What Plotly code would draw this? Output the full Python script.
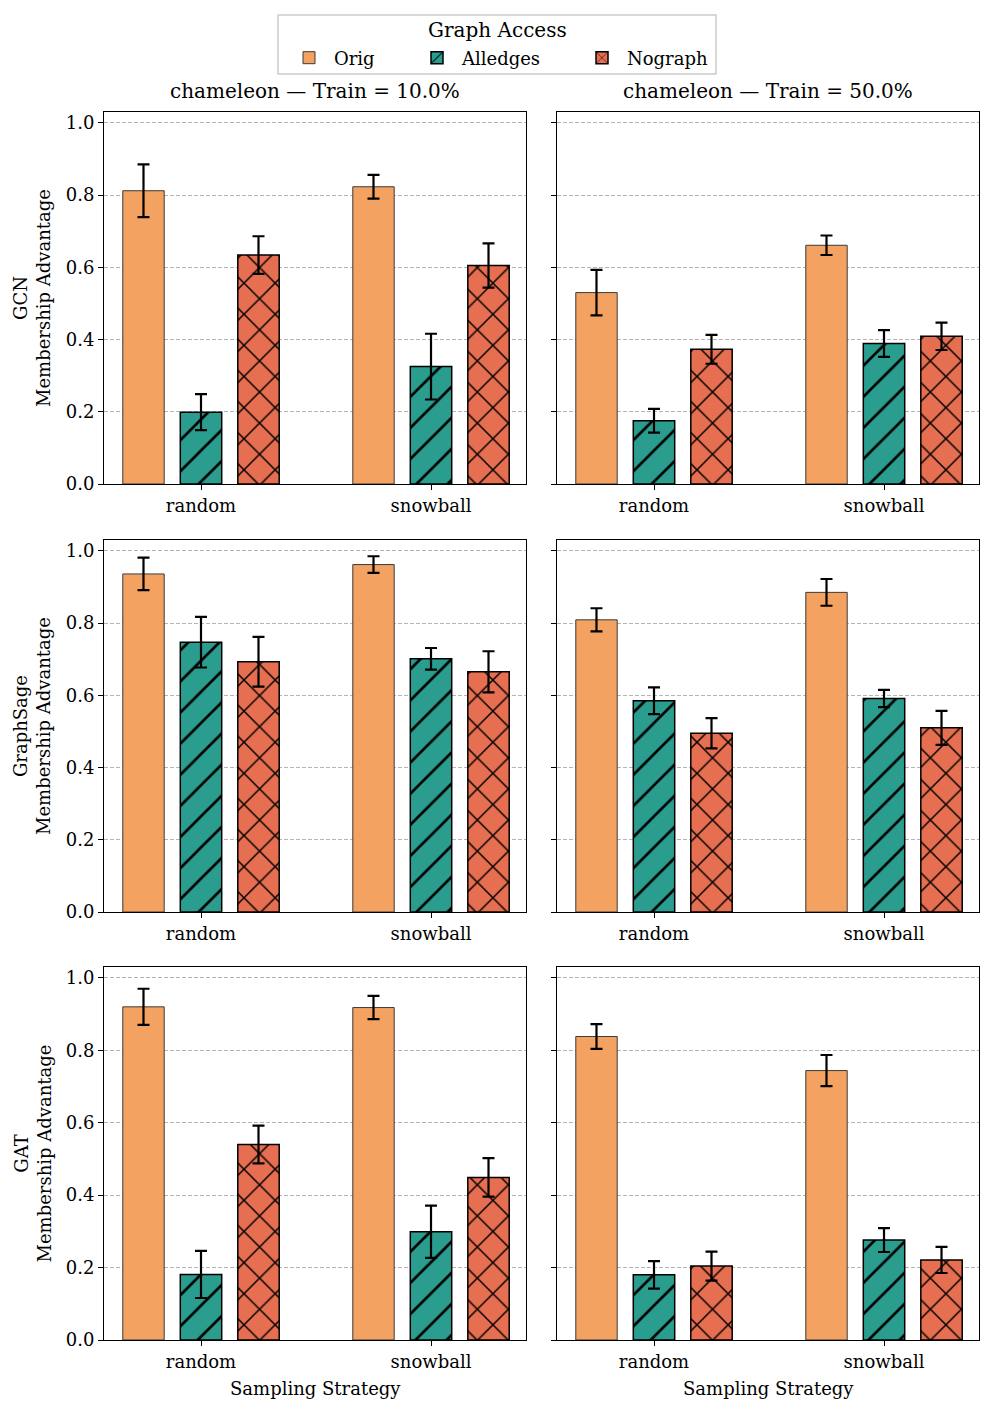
import plotly.graph_objects as go
from plotly.subplots import make_subplots

# ---------------- data ----------------
models = ["GCN", "GraphSage", "GAT"]
train_ratios = ["10.0%", "50.0%"]
strategies = ["random", "snowball"]
access = ["Orig", "Alledges", "Nograph"]
colors = ["#F4A261", "#2A9D8F", "#E76F51"]
hatches = ["", "/", "x"]
hatch_solidity = [0.0, 0.12, 0.13]

# means: [access][strategy]
gcn_10_mean = [[0.812, 0.823], [0.199, 0.325], [0.634, 0.605]]
gcn_10_err = [[0.073, 0.033], [0.050, 0.091], [0.052, 0.061]]
gcn_50_mean = [[0.530, 0.661], [0.175, 0.389], [0.373, 0.409]]
gcn_50_err = [[0.063, 0.027], [0.033, 0.037], [0.040, 0.038]]

sage_10_mean = [[0.936, 0.962], [0.747, 0.701], [0.693, 0.665]]
sage_10_err = [[0.045, 0.023], [0.070, 0.030], [0.069, 0.057]]
sage_50_mean = [[0.809, 0.885], [0.585, 0.591], [0.495, 0.510]]
sage_50_err = [[0.032, 0.037], [0.037, 0.024], [0.042, 0.047]]

gat_10_mean = [[0.920, 0.918], [0.181, 0.299], [0.540, 0.449]]
gat_10_err = [[0.050, 0.032], [0.065, 0.072], [0.052, 0.053]]
gat_50_mean = [[0.838, 0.744], [0.180, 0.276], [0.204, 0.221]]
gat_50_err = [[0.034, 0.043], [0.038, 0.033], [0.040, 0.036]]

means = [[gcn_10_mean, gcn_50_mean], [sage_10_mean, sage_50_mean], [gat_10_mean, gat_50_mean]]
errs = [[gcn_10_err, gcn_50_err], [sage_10_err, sage_50_err], [gat_10_err, gat_50_err]]

offsets = [-0.25, 0.0, 0.25]
bar_w = 0.18

FONT = "DejaVu Serif"
PAD = 8  # browser body margin
W, H = 996 - 2 * PAD, 1412 - 2 * PAD


def fx(px):
    return (px - PAD) / W


def fy(py):
    return 1 - (py - PAD) / H


fig = make_subplots(rows=3, cols=2)

legend_names = ["legend", "legend2", "legend3"]
legend_x = [284, 412, 577]

for r in range(3):
    for c in range(2):
        for k in range(3):
            xs = [i + offsets[k] for i in range(len(strategies))]
            marker = dict(color=colors[k],
                          line=dict(color="#3a3a3a" if k == 0 else "black",
                                    width=1 if k == 0 else 1.5))
            if hatches[k]:
                marker["pattern"] = dict(shape=hatches[k], fgcolor="black", bgcolor=colors[k],
                                         size=22, solidity=hatch_solidity[k], fillmode="replace")
            fig.add_trace(go.Bar(
                x=xs, y=means[r][c][k], width=bar_w, name=access[k],
                marker=marker, legendgroup=access[k], legend=legend_names[k],
                showlegend=(r == 0 and c == 0),
                error_y=dict(type="data", array=errs[r][c][k], color="black",
                             thickness=2.2, width=6),
            ), row=r + 1, col=c + 1)

xdom = [[fx(104), fx(526)], [fx(557), fx(979)]]
ypx = [(112, 484), (540, 912), (967, 1340)]
for r in range(3):
    for c in range(2):
        fig.update_xaxes(domain=xdom[c], row=r + 1, col=c + 1, automargin=False,
                         range=[-0.4217, 1.413], tickmode="array",
                         tickvals=list(range(len(strategies))), ticktext=strategies,
                         ticks="outside", ticklen=5, tickcolor="black",
                         showline=True, linecolor="black", linewidth=1, mirror=True,
                         showgrid=False, zeroline=False,
                         tickfont=dict(family=FONT, size=18, color="black"))
        fig.update_yaxes(domain=[fy(ypx[r][1]), fy(ypx[r][0])], row=r + 1, col=c + 1,
                         automargin=False,
                         range=[0, 1.03], tickvals=[0, 0.2, 0.4, 0.6, 0.8, 1.0],
                         tickformat=".1f", showticklabels=(c == 0),
                         ticks="outside", ticklen=5, tickcolor="black",
                         showline=True, linecolor="black", linewidth=1, mirror=True,
                         showgrid=True, gridcolor="#b5b5b5", griddash="4px,2px", gridwidth=0.7,
                         zeroline=False,
                         tickfont=dict(family=FONT, size=18, color="black"))

# column titles
for c in range(2):
    fig.add_annotation(text="chameleon \u2014 Train = " + train_ratios[c],
                       x=(xdom[c][0] + xdom[c][1]) / 2, y=fy(91),
                       xref="paper", yref="paper", showarrow=False,
                       font=dict(family=FONT, size=20, color="black"),
                       xanchor="center", yanchor="middle")
    # x-axis titles (bottom row)
    fig.add_annotation(text="Sampling Strategy",
                       x=(xdom[c][0] + xdom[c][1]) / 2, y=fy(1388),
                       xref="paper", yref="paper", showarrow=False,
                       font=dict(family=FONT, size=18, color="black"),
                       xanchor="center", yanchor="middle")

# y-axis titles (left column)
for r in range(3):
    fig.add_annotation(text=models[r] + "<br>Membership Advantage",
                       x=fx(32), y=fy((ypx[r][0] + ypx[r][1]) / 2),
                       xref="paper", yref="paper", showarrow=False, textangle=-90,
                       font=dict(family=FONT, size=18, color="black"),
                       xanchor="center", yanchor="middle")

# legend frame + title
fig.add_shape(type="rect", xref="paper", yref="paper",
              x0=fx(278), x1=fx(716), y0=fy(74), y1=fy(15),
              line=dict(color="#cccccc", width=1.5), fillcolor="white", layer="below")
fig.add_annotation(text="Graph Access", x=fx(497), y=fy(30), xref="paper", yref="paper",
                   showarrow=False, font=dict(family=FONT, size=20, color="black"),
                   xanchor="center", yanchor="middle")

legend_common = dict(orientation="h", xanchor="left", yanchor="middle", y=fy(58),
                     bgcolor="rgba(0,0,0,0)", borderwidth=0, itemwidth=40,
                     font=dict(family=FONT, size=18, color="black"))

fig.update_layout(
    width=W, height=H,
    margin=dict(l=0, r=0, t=0, b=0),
    paper_bgcolor="white", plot_bgcolor="white",
    font=dict(family=FONT, size=18, color="black"),
    barmode="overlay",
    legend=dict(x=fx(legend_x[0]), **legend_common),
    legend2=dict(x=fx(legend_x[1]), **legend_common),
    legend3=dict(x=fx(legend_x[2]), **legend_common),
)

fig.write_html("out.html")
